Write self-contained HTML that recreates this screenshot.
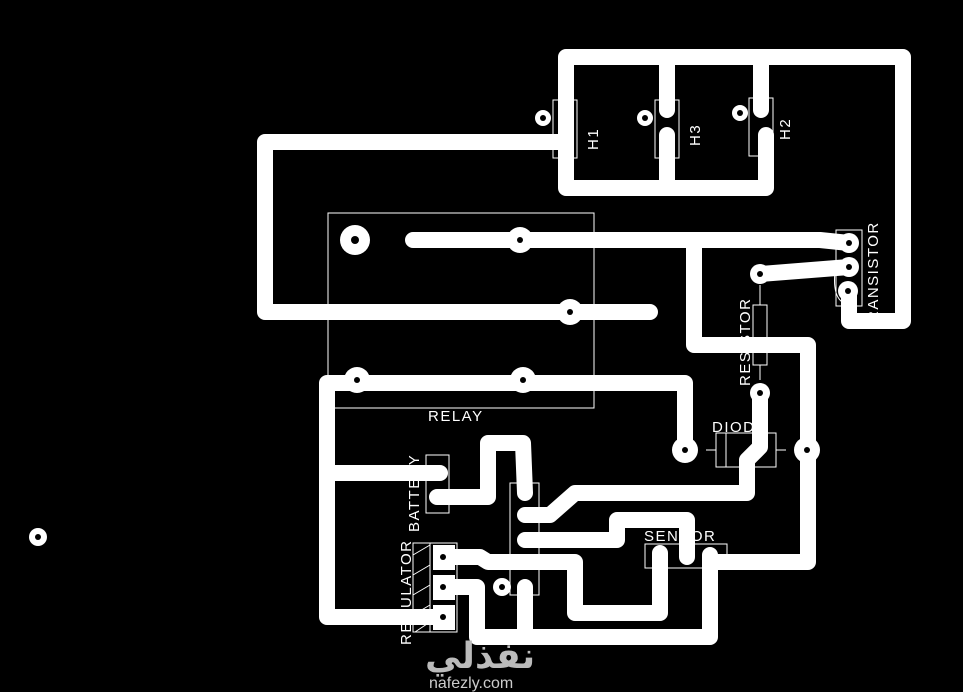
<!DOCTYPE html>
<html><head><meta charset="utf-8"><style>
html,body{margin:0;padding:0;background:#000;}
svg{display:block;}
text{font-family:"Liberation Sans",sans-serif;fill:#fff;}
</style></head><body>
<svg width="963" height="692" viewBox="0 0 963 692" xmlns="http://www.w3.org/2000/svg">
<rect width="963" height="692" fill="#000"/>
<g fill="none" stroke="#fff" stroke-width="1">
<rect x="328" y="213" width="266" height="195"/>
<rect x="553" y="100" width="24" height="58"/>
<rect x="655" y="100" width="24" height="58"/>
<rect x="749" y="98" width="24" height="58"/>
<rect x="836" y="230" width="26" height="76"/>
<path d="M836 265 Q830 300 848 305"/>
<rect x="753" y="305" width="14" height="60"/>
<line x1="760" y1="285" x2="760" y2="305"/><line x1="760" y1="365" x2="760" y2="380"/>
<rect x="716" y="433" width="60" height="34"/>
<line x1="726" y1="433" x2="726" y2="467"/>
<line x1="706" y1="450" x2="716" y2="450"/><line x1="776" y1="450" x2="786" y2="450"/>
<rect x="645" y="544" width="82" height="24"/>
<rect x="426" y="455" width="23" height="58"/>
<rect x="413" y="543" width="44" height="89"/>
<line x1="430" y1="543" x2="430" y2="632"/>
<path d="M413 555 L430 545 M413 575 L430 565 M413 595 L430 585 M413 615 L430 605 M415 632 L430 622"/>
<rect x="510" y="483" width="29" height="112"/>
</g>
<g fill="none" stroke="#fff" stroke-width="16" stroke-linecap="round" stroke-linejoin="round">
<polyline points="566,140 566,57 903,57 903,321 849,321 849,291"/>
<polyline points="566,140 566,188 766,188 766,135"/>
<polyline points="667,57 667,110"/><polyline points="667,135 667,188"/>
<polyline points="761,57 761,110"/>
<polyline points="566,142 265,142 265,312 650,312"/>
<polyline points="413,240 820,240 849,243"/>
<polyline points="694,240 694,345 808,345 808,562 710,562"/>
<polyline points="760,274 849,267"/>
<polyline points="443,587 477,587 477,637 710,637 710,555"/>
<polyline points="443,557 480,557 488,562 575,562 575,613 660,613 660,553"/>
<polyline points="443,617 327,617 327,383 685,383 685,450"/>
<polyline points="327,473 440,473"/>
<polyline points="437,497 488,497 488,443 523,443 525,493"/>
<polyline points="525,515 550,515 575,493 747,493 747,460 760,447 760,393"/>
<polyline points="525,540 617,540 617,520 687,520 687,557"/>
<polyline points="525,587 525,637"/>
</g>
<g fill="#fff">
<circle cx="355" cy="240" r="15"/><circle cx="520" cy="240" r="13"/><circle cx="570" cy="312" r="13"/>
<circle cx="357" cy="380" r="13"/><circle cx="523" cy="380" r="13"/>
<circle cx="685" cy="450" r="13"/><circle cx="807" cy="450" r="13"/>
<circle cx="760" cy="274" r="10"/><circle cx="760" cy="393" r="10"/>
<circle cx="849" cy="243" r="10"/><circle cx="849" cy="267" r="10"/><circle cx="848" cy="291" r="10"/>
<circle cx="543" cy="118" r="8"/><circle cx="645" cy="118" r="8"/><circle cx="740" cy="113" r="8"/>
<circle cx="38" cy="537" r="9"/><circle cx="502" cy="587" r="9"/>
<rect x="433" y="545" width="22" height="25"/><rect x="433" y="575" width="22" height="25"/><rect x="433" y="605" width="22" height="25"/>
</g>
<g fill="#000">
<circle cx="355" cy="240" r="4"/><circle cx="520" cy="240" r="3"/><circle cx="570" cy="312" r="3"/>
<circle cx="357" cy="380" r="3"/><circle cx="523" cy="380" r="3"/>
<circle cx="685" cy="450" r="3"/><circle cx="807" cy="450" r="3"/>
<circle cx="760" cy="274" r="3"/><circle cx="760" cy="393" r="3"/>
<circle cx="849" cy="243" r="3"/><circle cx="849" cy="267" r="3"/><circle cx="848" cy="291" r="3"/>
<circle cx="543" cy="118" r="3"/><circle cx="645" cy="118" r="3"/><circle cx="740" cy="113" r="3"/>
<circle cx="38" cy="537" r="3"/><circle cx="502" cy="587" r="3"/>
<circle cx="443" cy="557" r="3"/><circle cx="443" cy="587" r="3"/><circle cx="443" cy="617" r="3"/>
</g>
<g font-size="15" letter-spacing="1.5">
<text x="428" y="421">RELAY</text>
<text x="712" y="432">DIODE</text>
<text x="644" y="541">SENSOR</text>
<text transform="translate(598,150) rotate(-90)">H1</text>
<text transform="translate(700,146) rotate(-90)">H3</text>
<text transform="translate(790,140) rotate(-90)">H2</text>
<text transform="translate(878,322) rotate(-90)">RANSISTOR</text>
<text transform="translate(750,386) rotate(-90)">RESISTOR</text>
<text transform="translate(419,532) rotate(-90)">BATTERY</text>
<text transform="translate(411,645) rotate(-90)">REGULATOR</text>
</g>
<text x="425" y="668" font-size="36" font-weight="bold" style="fill:#bbb;font-family:'DejaVu Sans',sans-serif">نفذلي</text>
<text x="429" y="688" font-size="16" style="fill:#ccc">nafezly.com</text>
</svg>
</body></html>
